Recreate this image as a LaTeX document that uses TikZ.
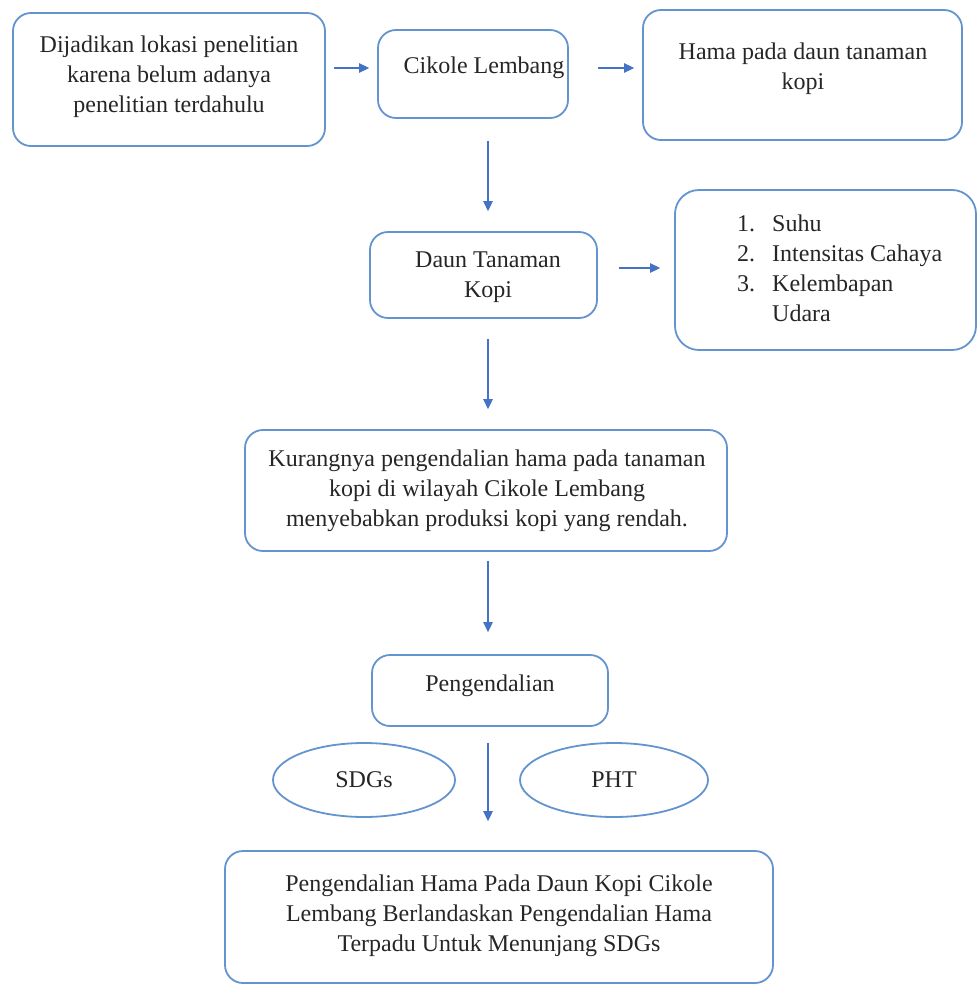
\documentclass[tikz,border=0pt]{standalone}
\usepackage{fontspec}
\setmainfont{Liberation Serif}
\usetikzlibrary{arrows.meta,shapes.geometric}
\definecolor{boxblue}{RGB}{100,148,208}
\definecolor{arrblue}{RGB}{68,114,196}
\tikzset{
  box/.style={draw=boxblue, line width=1.8pt, rounded corners=18pt, inner sep=0pt},
  oval/.style={draw=boxblue, line width=1.8pt, ellipse, inner sep=0pt},
  txt/.style={align=center, inner sep=0pt, font=\fontsize{24}{30}\selectfont, text=black!85},
  arr/.style={draw=arrblue, line width=1.3pt, -{Triangle[length=10pt,width=9.5pt]}}
}
\begin{document}
\begin{tikzpicture}[x=1pt,y=-1pt]
\useasboundingbox (0,0) rectangle (977,985);
% boxes
\node[box, minimum width=312pt, minimum height=133pt] (A) at (169,79.5) {};
\node[box, minimum width=190pt, minimum height=88pt] (B) at (473,74) {};
\node[box, minimum width=319pt, minimum height=130pt] (C) at (802.5,75) {};
\node[box, minimum width=227pt, minimum height=86pt] (D) at (483.5,275) {};
\node[box, minimum width=301pt, minimum height=160pt, rounded corners=24pt] (E) at (825.5,270) {};
\node[box, minimum width=482pt, minimum height=121pt] (F) at (486,490.5) {};
\node[box, minimum width=236pt, minimum height=71pt] (G) at (490,690.5) {};
\node[box, minimum width=548pt, minimum height=132pt] (H) at (499,917) {};
\node[oval, minimum width=182pt, minimum height=74pt] (S) at (364,780) {};
\node[oval, minimum width=188pt, minimum height=74pt] (P) at (614,780) {};
% texts
\node[txt] (tA) at (169,76.5) {Dijadikan lokasi penelitian\\karena belum adanya\\penelitian terdahulu};
\node[txt] (tB) at (484,68) {Cikole Lembang};
\node[txt] (tC) at (803,69) {Hama pada daun tanaman\\kopi};
\node[txt] (tD) at (488,277.5) {Daun Tanaman\\Kopi};
\node[txt, anchor=north west, align=left] (tE) at (737,210) {\begin{tabular}{@{}l@{\hspace{17pt}}l@{}}1. & Suhu\\ 2. & Intensitas Cahaya\\ 3. & Kelembapan\\ & Udara\end{tabular}};
\node[txt] (tF) at (487,490.5) {Kurangnya pengendalian hama pada tanaman\\kopi di wilayah Cikole Lembang\\menyebabkan produksi kopi yang rendah.};
\node[txt] (tG) at (490,685.5) {Pengendalian};
\node[txt] at (S.center) {SDGs};
\node[txt] at (P.center) {PHT};
\node[txt] (tH) at (499,916) {Pengendalian Hama Pada Daun Kopi Cikole\\Lembang Berlandaskan Pengendalian Hama\\Terpadu Untuk Menunjang SDGs};
% column
\coordinate (col) at (488,0);
% arrows
\draw[arr, shorten <=8pt, shorten >=8pt] ([yshift=11.5pt]A.east) -- ([yshift=6pt]B.west);
\draw[arr, shorten <=29pt, shorten >=8pt] ([yshift=6pt]B.east) -- ([yshift=7pt]C.west);
\draw[arr, shorten <=22pt, shorten >=20pt] (B.south -| col) -- (D.north -| col);
\draw[arr, shorten <=21pt, shorten >=14pt] ([yshift=7pt]D.east) -- ([yshift=2pt]E.west);
\draw[arr, shorten <=20pt, shorten >=20pt] (D.south -| col) -- (F.north -| col);
\draw[arr, shorten <=9pt, shorten >=22pt] (F.south -| col) -- (G.north -| col);
\draw[arr, shorten <=16pt, shorten >=29pt] (G.south -| col) -- (H.north -| col);
\end{tikzpicture}
\end{document}
